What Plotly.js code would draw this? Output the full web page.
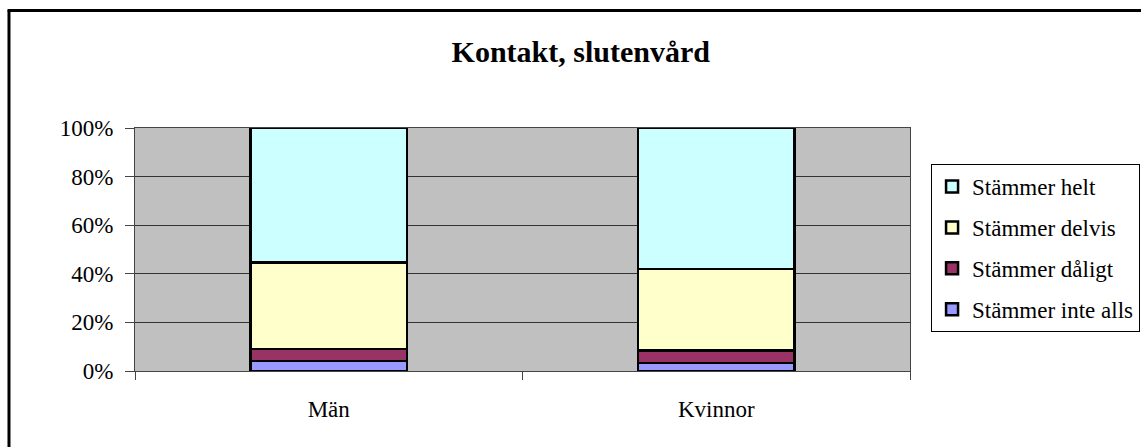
<!DOCTYPE html>
<html>
<head>
<meta charset="utf-8">
<script src="https://cdn.plot.ly/plotly-3.0.1.min.js"></script>
<style>
html,body{margin:0;padding:0;background:#fff;}
#chart{width:1141px;height:447px;}
</style>
</head>
<body>
<div id="chart"></div>
<script>
const categories = ["Män", "Kvinnor"];
const seriesNames = ["Stämmer inte alls", "Stämmer dåligt", "Stämmer delvis", "Stämmer helt"];
const inteAlls = [4.1, 3.2];
const daligt = [5.0, 5.2];
const delvis = [35.5, 33.6];
const helt = [55.4, 58.0];
const yTickVals = [0, 20, 40, 60, 80, 100];
const yTickText = ["0%", "20%", "40%", "60%", "80%", "100%"];

const colors = ["#9999FF", "#993366", "#FFFFCC", "#CCFFFF"];
const values = [inteAlls, daligt, delvis, helt];

const traces = seriesNames.map((name, i) => ({
  type: "bar",
  name: name,
  x: categories,
  y: values[i],
  legendgroup: "g" + i,
  legendrank: 1000 - i,
  marker: { color: colors[i], line: { color: "#000", width: 2.5 } },
  hoverinfo: "x+y+name"
}));

const font = "Liberation Serif, DejaVu Serif, serif";

const layout = {
  width: 1141,
  height: 447,
  margin: { l: 135, r: 231, t: 128, b: 76, autoexpand: false },
  paper_bgcolor: "#ffffff",
  plot_bgcolor: "#C0C0C0",
  barmode: "stack",
  bargap: 0.595,
  showlegend: true,
  font: { family: font, size: 23, color: "#000" },
  title: {
    text: "<b>Kontakt, slutenvård</b>",
    font: { family: font, size: 30, color: "#000" },
    xref: "container", x: 0.509, xanchor: "center",
    yref: "container", y: 0.884, yanchor: "middle"
  },
  xaxis: {
    type: "category",
    tickson: "boundaries",
    ticks: "outside",
    ticklen: 8,
    tickcolor: "#444",
    showgrid: false,
    showline: true,
    linecolor: "#444",
    linewidth: 1,
    mirror: true,
    tickfont: { family: font, size: 23, color: "#000" },
    ticklabelstandoff: 17
  },
  yaxis: {
    range: [0, 100],
    tickvals: yTickVals,
    ticktext: yTickText,
    ticks: "outside",
    ticklen: 9,
    tickcolor: "#444",
    showgrid: true,
    gridcolor: "#333",
    gridwidth: 1,
    showline: true,
    linecolor: "#444",
    linewidth: 1,
    mirror: true,
    zeroline: false,
    tickfont: { family: font, size: 23, color: "#000" },
    ticklabelstandoff: 7
  },
  legend: {
    xref: "container", x: 0.816, xanchor: "left",
    yref: "container", y: 0.633, yanchor: "top",
    bgcolor: "#ffffff",
    bordercolor: "#000",
    borderwidth: 1,
    traceorder: "grouped",
    tracegroupgap: 8,
    font: { family: font, size: 23, color: "#000" },
    itemwidth: 30
  },
  shapes: [
    { type: "line", xref: "paper", yref: "paper", x0: -0.1626, x1: -0.1626, y0: -0.4, y1: 1.4835,
      line: { color: "#000", width: 3 } },
    { type: "line", xref: "paper", yref: "paper", x0: -0.1645, x1: 1.35, y0: 1.4835, y1: 1.4835,
      line: { color: "#000", width: 3 } }
  ]
};

Plotly.newPlot("chart", traces, layout, { displayModeBar: false, staticPlot: true });
</script>
</body>
</html>
